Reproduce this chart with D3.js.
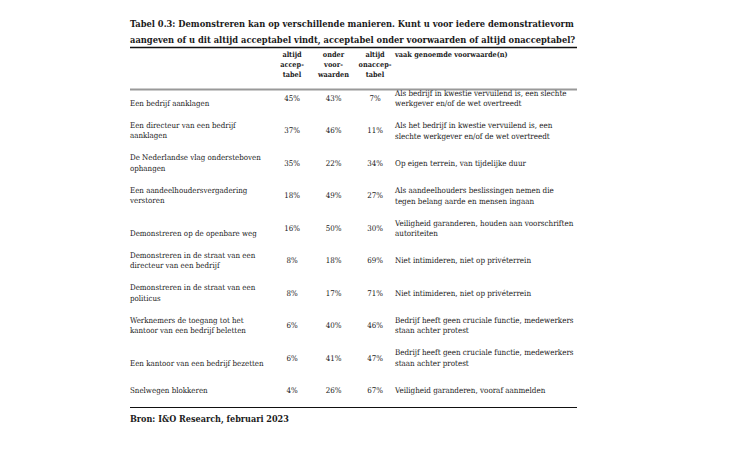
<!DOCTYPE html>
<html><head><meta charset="utf-8">
<script src="https://cdn.jsdelivr.net/npm/d3@7"></script>
<style>body{margin:0;background:#fff}</style>
</head><body>
<script>
const titleLines = ["Tabel 0.3: Demonstreren kan op verschillende manieren. Kunt u voor iedere demonstratievorm",
  "aangeven of u dit altijd acceptabel vindt, acceptabel onder voorwaarden of altijd onacceptabel?"];
const columnHeaders = [["altijd","accep-","tabel"],["onder","voor-","waarden"],["altijd","onaccep-","tabel"]];
const conditionHeader = "vaak genoemde voorwaarde(n)";
const labels = [
  ["Een bedrijf aanklagen"],
  ["Een directeur van een bedrijf","aanklagen"],
  ["De Nederlandse vlag ondersteboven","ophangen"],
  ["Een aandeelhoudersvergadering","verstoren"],
  ["Demonstreren op de openbare weg"],
  ["Demonstreren in de straat van een","directeur van een bedrijf"],
  ["Demonstreren in de straat van een","politicus"],
  ["Werknemers de toegang tot het","kantoor van een bedrijf beletten"],
  ["Een kantoor van een bedrijf bezetten"],
  ["Snelwegen blokkeren"]
];
const acceptabel = [45,37,35,18,16,8,8,6,6,4];
const onderVoorwaarden = [43,46,22,49,50,18,17,40,41,26];
const onacceptabel = [7,11,34,27,30,69,71,46,47,67];
const voorwaarden = [
  ["Als bedrijf in kwestie vervuilend is, een slechte","werkgever en/of de wet overtreedt"],
  ["Als het bedrijf in kwestie vervuilend is, een","slechte werkgever en/of de wet overtreedt"],
  ["Op eigen terrein, van tijdelijke duur"],
  ["Als aandeelhouders beslissingen nemen die","tegen belang aarde en mensen ingaan"],
  ["Veiligheid garanderen, houden aan voorschriften","autoriteiten"],
  ["Niet intimideren, niet op privéterrein"],
  ["Niet intimideren, niet op privéterrein"],
  ["Bedrijf heeft geen cruciale functie, medewerkers","staan achter protest"],
  ["Bedrijf heeft geen cruciale functie, medewerkers","staan achter protest"],
  ["Veiligheid garanderen, vooraf aanmelden"]
];
const source = "Bron: I&O Research, februari 2023";

const W = 732, H = 450;
const FONT = "'DejaVu Serif Condensed', 'Liberation Serif', serif";
const ink = "#1a1a1a";
const svg = d3.select("body").append("svg").attr("width", W).attr("height", H)
  .style("font-family", FONT);

function fit(str, weight, target) {
  const t = svg.append("text").attr("font-size", 10).attr("font-weight", weight).text(str);
  const w = t.node().getComputedTextLength();
  t.remove();
  return 10 * target / w;
}
const fsTitle = fit(titleLines[0], "bold", 444);
const fsBody = fit("Een kantoor van een bedrijf bezetten", "normal", 134);
const fsCond = fit("Bedrijf heeft geen cruciale functie, medewerkers", "normal", 179);
const fsHead = fit(conditionHeader, "bold", 113);
const fsSrc = fit(source, "bold", 159);

const x0 = 130, x1 = 577, xCond = 395;
const rowIdx = d3.range(labels.length);
const y = d3.scalePoint().domain(rowIdx).range([98, 390]);
const cols = ["acc","ond","onacc"];
const x = d3.scalePoint().domain(cols).range([292, 375]);
const colVals = [acceptabel, onderVoorwaarden, onacceptabel];

svg.append("g").selectAll("text").data(titleLines).join("text")
  .attr("x", x0).attr("y", (d,i) => 27 + i*15.5)
  .attr("font-size", fsTitle).attr("font-weight", "bold").attr("fill", ink).text(d => d);

svg.append("line").attr("x1", x0).attr("x2", x1).attr("y1", 47.5).attr("y2", 47.5)
  .attr("stroke", "#111").attr("stroke-width", 1.5);

const hg = svg.append("g").attr("font-size", fsHead).attr("font-weight", "bold").attr("fill", ink);
columnHeaders.forEach((lines, ci) => {
  hg.selectAll(null).data(lines).join("text")
    .attr("x", x(cols[ci])).attr("y", (d,i) => 56.5 + i*10)
    .attr("text-anchor", "middle").text(d => d);
});
hg.append("text").attr("x", xCond).attr("y", 56.5).text(conditionHeader);

svg.append("line").attr("x1", x0).attr("x2", x1).attr("y1", 89.5).attr("y2", 89.5)
  .attr("stroke", "#999").attr("stroke-width", 2);

const lh = 10.5;
const rows = svg.append("g").selectAll("g").data(rowIdx).join("g");
rows.each(function(r) {
  const g = d3.select(this);
  const cy = y(r);
  const maxLines = Math.max(labels[r].length, voorwaarden[r].length);
  const bottom = maxLines > 1 ? cy + 8 : cy + 3;
  const n = labels[r].length;
  g.selectAll(".lab").data(labels[r]).join("text").attr("class","lab")
    .attr("x", x0).attr("y", (d,i) => bottom - (n-1-i)*lh)
    .attr("font-size", fsBody).attr("fill", ink).text(d => d);
  cols.forEach((c, ci) => {
    g.append("text").attr("x", x(c)).attr("y", cy + 3).attr("text-anchor", "middle")
      .attr("font-size", fsBody).attr("fill", ink).text(colVals[ci][r] + "%");
  });
  const m = voorwaarden[r].length;
  g.selectAll(".cond").data(voorwaarden[r]).join("text").attr("class","cond")
    .attr("x", xCond).attr("y", (d,i) => cy + 3 + (i - (m-1)/2)*lh)
    .attr("font-size", fsCond).attr("fill", ink).text(d => d);
});

svg.append("line").attr("x1", x0).attr("x2", x1).attr("y1", 407.5).attr("y2", 407.5)
  .attr("stroke", "#111").attr("stroke-width", 1.2);
svg.append("text").attr("x", x0).attr("y", 422).attr("font-size", fsSrc)
  .attr("font-weight", "bold").attr("fill", ink).text(source);
</script>
</body></html>
